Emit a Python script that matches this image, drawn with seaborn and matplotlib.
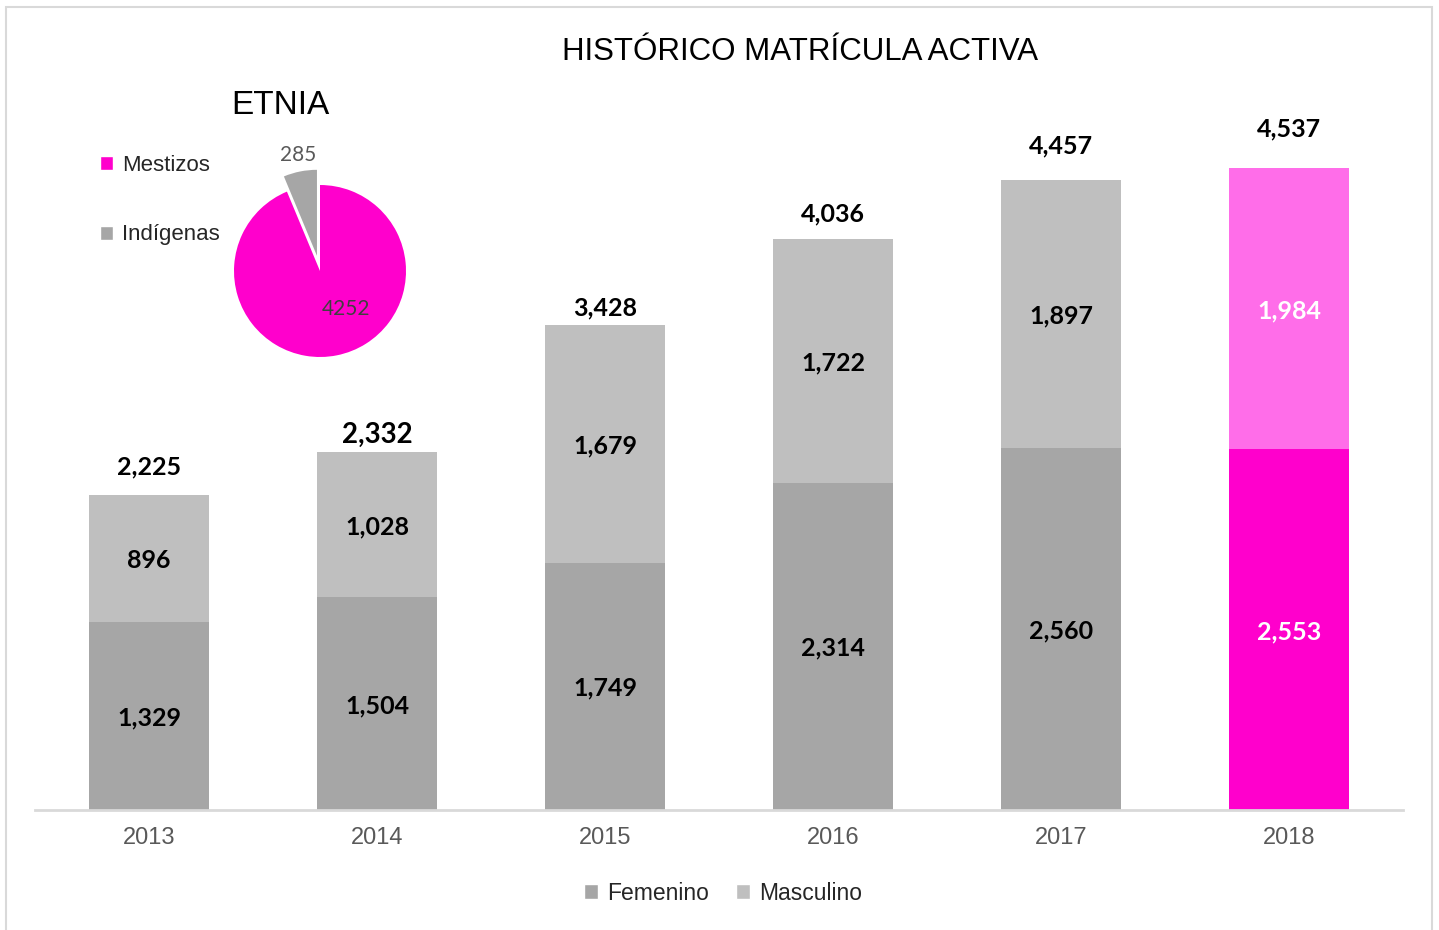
import matplotlib
matplotlib.use("Agg")
import matplotlib.pyplot as plt
from matplotlib.patches import Rectangle, Patch
import seaborn as sns
import numpy as np

# ---- data ----
years = ["2013", "2014", "2015", "2016", "2017", "2018"]
femenino = [1329, 1504, 1749, 2314, 2560, 2553]
masculino = [896, 1028, 1679, 1722, 1897, 1984]
totales = [2225, 2332, 3428, 4036, 4457, 4537]

etnia_labels = ["Mestizos", "Indígenas"]
etnia_values = [4252, 285]

# ---- styles ----
NARROW = ["Liberation Sans", "DejaVu Sans"]
VALFONT = ["Lato", "DejaVu Sans"]
C_FEM = "#A6A6A6"
C_MAS = "#BFBFBF"
C_MAG = "#FF00CC"
C_MAG_L = "#FF6DE9"

sns.set_theme(style="white")
plt.rcParams["font.family"] = NARROW

fig = plt.figure(figsize=(14.39, 9.30), dpi=100)
W, H = 1439, 930

# outer border
fig.patches.append(Rectangle((6 / W, -0.01), 1426 / W, (930 - 7) / H + 0.01,
                             transform=fig.transFigure, fill=False,
                             edgecolor="#D9D9D9", linewidth=1.5))

ax = fig.add_axes([35 / W, (H - 810) / H, 1368 / W, 707 / H])

fem_cols = [C_FEM] * 5 + [C_MAG]
mas_cols = [C_MAS] * 5 + [C_MAG_L]

# upper segment (drawn as total bar, then moved to sit on top of femenino)
sns.barplot(x=years, y=totales, color=C_MAS, width=0.526, ax=ax,
            saturation=1, linewidth=0)
top_cont = ax.containers[0]
for p, f, m, c in zip(top_cont.patches, femenino, masculino, mas_cols):
    p.set_y(f)
    p.set_height(m)
    p.set_facecolor(c)

sns.barplot(x=years, y=femenino, color=C_FEM, width=0.526, ax=ax,
            saturation=1, linewidth=0)
fem_cont = ax.containers[1]
for p, c in zip(fem_cont.patches, fem_cols):
    p.set_facecolor(c)

ax.set_xlim(-0.5, 5.5)
ax.set_ylim(0, 5000)
sns.despine(ax=ax, left=True, top=True, right=True)
ax.spines["bottom"].set_color("#D9D9D9")
ax.spines["bottom"].set_linewidth(2)
ax.set_yticks([])
ax.set_ylabel("")
ax.set_xlabel("")
ax.tick_params(axis="x", length=0, pad=12, labelsize=17, labelcolor="#595959")
for t in ax.get_xticklabels():
    t.set_family(NARROW)

lbl_cols = ["black"] * 5 + ["white"]
fmt = lambda v: f"{v:,}"

t1 = ax.bar_label(fem_cont, labels=[fmt(v) for v in femenino], label_type="center",
                  fontsize=18, fontweight="bold", family=VALFONT)
t2 = ax.bar_label(top_cont, labels=[fmt(v) for v in masculino], label_type="center",
                  fontsize=18, fontweight="bold", family=VALFONT)
for t, c in zip(list(t1) + list(t2), lbl_cols + lbl_cols):
    t.set_color(c)
    t.set_va("center_baseline")

tot_pad = [12, 3, 4, 10, 16, 20]
tot_size = [18, 20, 18, 18, 18, 18]
for p, v, pad, fs in zip(top_cont.patches, totales, tot_pad, tot_size):
    ax.annotate(fmt(v), (p.get_x() + p.get_width() / 2, p.get_y() + p.get_height()),
                xytext=(0, pad), textcoords="offset points", ha="center", va="bottom",
                fontsize=fs, fontweight="bold", family=VALFONT, color="black")

# bottom legend
handles = [Patch(facecolor=C_FEM, label="Femenino"), Patch(facecolor=C_MAS, label="Masculino")]
fig.legend(handles=handles, loc="center", bbox_to_anchor=(723 / W, 1 - 893 / H), ncol=2,
           frameon=False, fontsize=16.5, handlelength=0.6, handleheight=0.6,
           handletextpad=0.4, columnspacing=1.2)

# title
fig.text(800 / W, 1 - 52 / H, "HISTÓRICO MATRÍCULA ACTIVA", ha="center", va="center",
         fontsize=22.5, color="black", family=NARROW)

# ---- pie inset ----
R = 86
S = 2 * 1.5 * R
pax = fig.add_axes([(320 - S / 2) / W, (H - 271 - S / 2) / H, S / W, S / H])
wedges, _ = pax.pie(etnia_values, colors=[C_MAG, C_FEM], startangle=90, counterclock=False,
                    explode=[0, 0.18], wedgeprops=dict(linewidth=0))
pax.set_xlim(-1.5, 1.5)
pax.set_ylim(-1.5, 1.5)
pax.set_aspect("equal")
pax.axis("off")
pax.text(0.30, -0.44, f"{etnia_values[0]}", ha="center", va="center", fontsize=15,
         color="#404040", family=VALFONT)
pax.text(-0.26, 1.35, f"{etnia_values[1]}", ha="center", va="center", fontsize=15,
         color="#595959", family=VALFONT)

fig.text(280 / W, 1 - 105 / H, "ETNIA", ha="center", va="center", fontsize=24,
         color="black", family=NARROW)
pie_handles = [Patch(facecolor=c, label=l) for c, l in zip([C_MAG, C_FEM], etnia_labels)]
fig.legend(handles=pie_handles, loc="center left", bbox_to_anchor=(80 / W, 1 - 200 / H),
           frameon=False, fontsize=16, handlelength=0.6, handleheight=0.6,
           handletextpad=0.4, labelspacing=2.2)

fig.savefig("out.png", dpi=100)
